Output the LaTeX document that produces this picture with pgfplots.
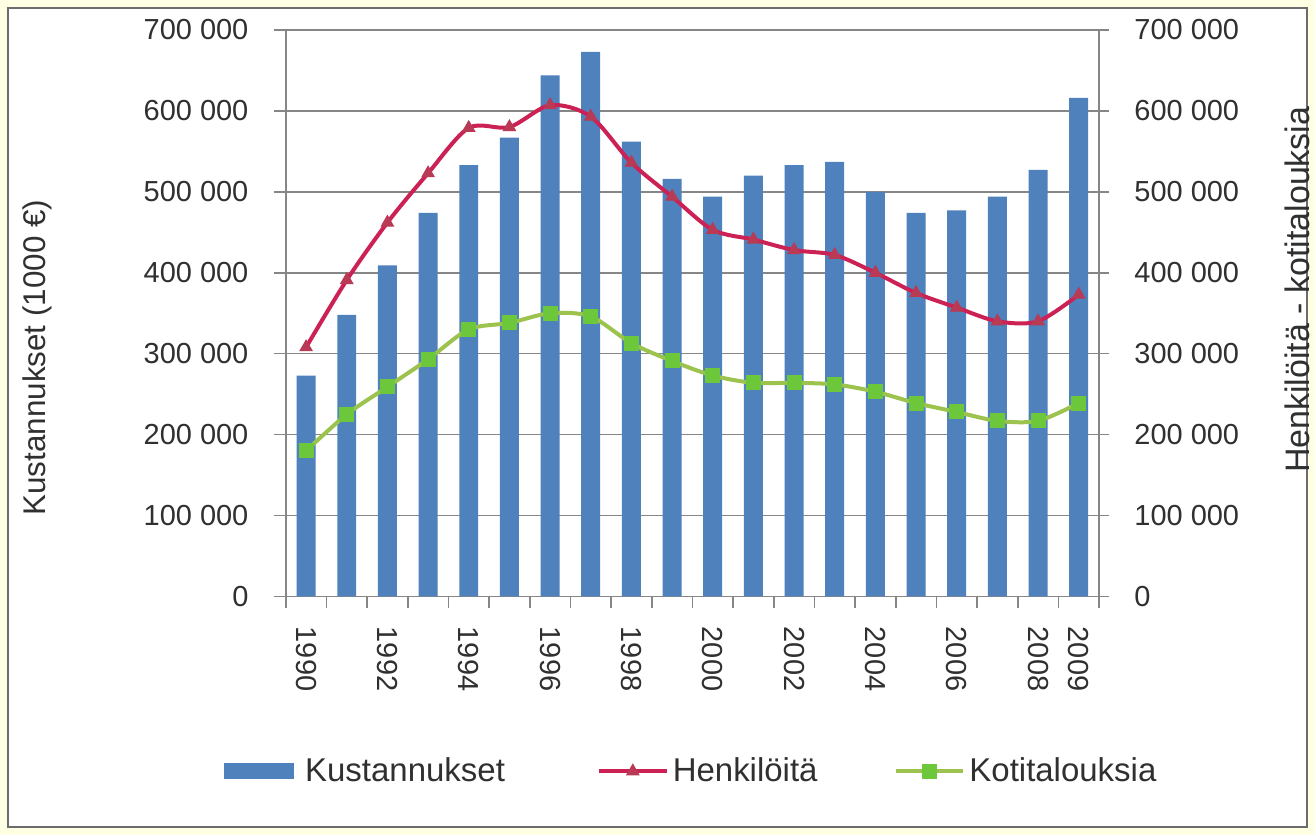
\documentclass[border=0pt]{standalone}
\usepackage{fontspec}
\setmainfont{Liberation Sans}
\usepackage{pgfplots}
\pgfplotsset{compat=1.18}
\definecolor{barblue}{HTML}{4F81BD}
\definecolor{redline}{HTML}{CC2155}
\definecolor{redmark}{HTML}{B83A55}
\definecolor{greenline}{HTML}{9BC34E}
\definecolor{greenmark}{HTML}{6CC83A}
\definecolor{gridgray}{HTML}{868686}
\definecolor{txt}{HTML}{303030}
\definecolor{bgyellow}{HTML}{FFFFE3}
\pgfplotsset{
  mystyle/.style={
    at={(143pt,119.5pt)}, anchor=south west,
    scale only axis, width=407pt, height=283.5pt,
    xmin=1989.5, xmax=2009.5, ymin=0, ymax=700000,
    ytick={0,100000,200000,300000,400000,500000,600000,700000},
    yticklabels={0,100 000,200 000,300 000,400 000,500 000,600 000,700 000},
    scaled y ticks=false,
    ticklabel style={font=\fontsize{14.5}{17}\selectfont, text=txt},
    axis line style={gridgray, line width=0.8pt},
    tick style={gridgray, line width=0.8pt},
    major tick length=6pt,
  }
}
\begin{document}
\begin{tikzpicture}
\fill[bgyellow] (0,0) rectangle (658pt,418pt);
\filldraw[fill=white, draw=gray!85!black, line width=0.8pt] (4pt,4pt) rectangle (654pt,414pt);
\begin{axis}[mystyle,
  axis x line*=bottom, axis y line*=left,
  ymajorgrids, grid style={gridgray, line width=0.8pt},
  tick align=outside,
  xtick={1989.5,1990.5,...,2009.5}, xticklabels={},
  extra x ticks={1990,1992,1994,1996,1998,2000,2002,2004,2006,2008,2009},
  extra x tick labels={1990,1992,1994,1996,1998,2000,2002,2004,2006,2008,2009},
  extra x tick style={major tick length=0pt, xticklabel style={rotate=-90, anchor=west, inner xsep=15pt}},
  yticklabel style={inner xsep=12.5pt},
]
\addplot[ybar, bar width=0.467, fill=barblue, draw=none] coordinates {
(1990,273000) (1991,348000) (1992,409000) (1993,474000) (1994,533000)
(1995,567000) (1996,644000) (1997,673000) (1998,562000) (1999,516000)
(2000,494000) (2001,520000) (2002,533000) (2003,537000) (2004,500000)
(2005,474000) (2006,477000) (2007,494000) (2008,527000) (2009,616000)};
\end{axis}
\begin{axis}[mystyle,
  axis x line=none, axis y line*=right,
  tick align=center, major tick length=10pt,
  yticklabel style={inner xsep=12.5pt},
  legend columns=3,
  legend style={at={(0.5,-0.3086)}, anchor=center, draw=none, fill=none,
    font=\fontsize{16.5}{19}\selectfont, text=txt,
    /tikz/column 2/.style={column sep=44pt},
    /tikz/column 4/.style={column sep=36pt}},
]
\addlegendimage{legend image code/.code={\fill[barblue] (0pt,-3.75pt) rectangle (34.5pt,3.75pt); \path (38pt,0pt);}}
\addlegendentry{Kustannukset}
\addplot[smooth, color=redline, line width=2pt, mark=triangle*, mark size=3.5pt,
  mark options={fill=redmark, draw=redmark, line width=0.5pt},
  legend image code/.code={\draw[mark repeat=2,mark phase=2] plot coordinates {(0pt,0pt) (17pt,0pt) (34pt,0pt)};}] coordinates {
(1990,308000) (1991,391000) (1992,462000) (1993,523000) (1994,579000)
(1995,580000) (1996,607000) (1997,593000) (1998,536000) (1999,494000)
(2000,453000) (2001,441000) (2002,428000) (2003,422000) (2004,400000)
(2005,375000) (2006,357000) (2007,340000) (2008,340000) (2009,373000)};
\addlegendentry{Henkilöitä}
\addplot[smooth, color=greenline, line width=2pt, mark=square*, mark size=3.5pt,
  mark options={fill=greenmark, draw=greenmark, line width=0.5pt},
  legend image code/.code={\draw[mark repeat=2,mark phase=2] plot coordinates {(0pt,0pt) (17pt,0pt) (34pt,0pt)};}] coordinates {
(1990,180000) (1991,225000) (1992,259000) (1993,293000) (1994,330000)
(1995,338000) (1996,350000) (1997,346000) (1998,313000) (1999,291000)
(2000,273000) (2001,264000) (2002,264000) (2003,262000) (2004,253000)
(2005,239000) (2006,228000) (2007,217000) (2008,217000) (2009,239000)};
\addlegendentry{Kotitalouksia}
\end{axis}
\node[rotate=90, font=\fontsize{15.7}{18}\selectfont, text=txt] at (18.75pt,239pt) {Kustannukset (1000 €)};
\node[rotate=90, font=\fontsize{17}{19}\selectfont, text=txt] at (649pt,273pt) {Henkilöitä - kotitalouksia};
\end{tikzpicture}
\end{document}
